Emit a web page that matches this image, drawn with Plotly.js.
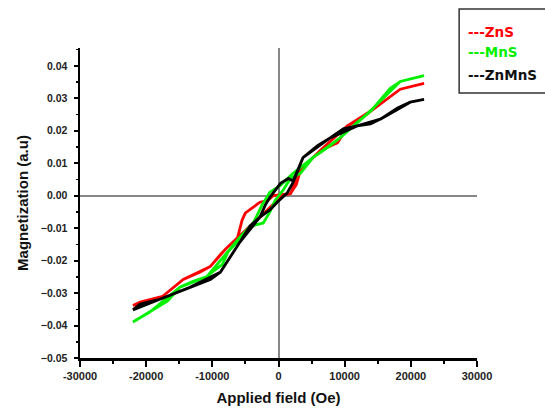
<!DOCTYPE html>
<html>
<head>
<meta charset="utf-8">
<script src="https://cdn.plot.ly/plotly-3.0.1.min.js"></script>
<style>
  html, body { margin: 0; padding: 0; background: #fff; }
  #chart { width: 545px; height: 413px; }
</style>
</head>
<body>
<div id="chart"></div>
<script>
// M-H loops: each series runs up from -22 kOe to +22 kOe, then back down.
const znsField = [-22000, -20900, -17500, -14400, -11900, -10300, -8800, -7800, -6200, -4300, -2500, -1000, 700, 1800, 2700, 3300, 4800, 6300, 8900, 9300, 10400, 12400, 13900, 16900, 18400, 22000,
                  18400, 13900, 10400, 6300, 3300, 1800, -800, -1600, -2800, -3800, -5000, -5500, -6200, -7800, -10300, -14400, -17500, -22000];
const znsMag = [-0.0338, -0.0328, -0.0310, -0.0258, -0.0236, -0.0218, -0.0182, -0.0160, -0.0130, -0.0095, -0.0060, -0.0030, 0.0002, 0.0006, 0.0035, 0.0078, 0.0108, 0.0139, 0.0163, 0.0175, 0.0215, 0.0237, 0.0260, 0.0306, 0.0328, 0.0346,
                0.0328, 0.0260, 0.0215, 0.0139, 0.0078, 0.0006, 0.0000, -0.0014, -0.0020, -0.0035, -0.0053, -0.0075, -0.0130, -0.0160, -0.0218, -0.0258, -0.0310, -0.0338];

const mnsField = [-22000, -19400, -16800, -14900, -12900, -10800, -9900, -8500, -7600, -6200, -5800, -3800, -2300, -1300, -500, 700, 1800, 3300, 5200, 7400, 9300, 11300, 13400, 14000, 16900, 18400, 22000,
                  18400, 13400, 9300, 5200, 2200, 300, -1300, -2500, -3800, -5800, -7600, -10800, -14900, -19400, -22000];
const mnsMag = [-0.0389, -0.0358, -0.0325, -0.0282, -0.0264, -0.0249, -0.0233, -0.0212, -0.0172, -0.0142, -0.0127, -0.0092, -0.0084, -0.0050, -0.0014, 0.0017, 0.0053, 0.0069, 0.0117, 0.0148, 0.0178, 0.0215, 0.0252, 0.0262, 0.0331, 0.0352, 0.0370,
                0.0352, 0.0252, 0.0178, 0.0117, 0.0069, 0.0032, 0.0011, -0.0029, -0.0084, -0.0127, -0.0172, -0.0249, -0.0282, -0.0358, -0.0389];

const znmnsField = [-22000, -20900, -17900, -15900, -13400, -10300, -8800, -7300, -5800, -4300, -2800, -1300, -200, 1300, 2200, 3700, 5900, 7800, 9800, 11900, 13900, 15400, 18000, 19900, 22000,
                    19900, 15400, 11900, 7800, 3700, 2200, 1500, 300, -1300, -2000, -2800, -5800, -8800, -13400, -17900, -22000];
const znmnsMag = [-0.0352, -0.0334, -0.0319, -0.0303, -0.0282, -0.0258, -0.0236, -0.0190, -0.0142, -0.0093, -0.0066, -0.0044, -0.0020, 0.0008, 0.0041, 0.0117, 0.0154, 0.0178, 0.0206, 0.0215, 0.0221, 0.0236, 0.0270, 0.0288, 0.0297,
                  0.0288, 0.0236, 0.0215, 0.0178, 0.0117, 0.0045, 0.0053, 0.0038, -0.0005, -0.0029, -0.0066, -0.0142, -0.0236, -0.0282, -0.0319, -0.0352];

const seriesNames = ['ZnS', 'MnS', 'ZnMnS'];
const seriesColors = ['#ff0000', '#00f000', '#000000'];

const xTickVals = [-30000, -20000, -10000, 0, 10000, 20000, 30000];
const yTickVals = [-0.05, -0.04, -0.03, -0.02, -0.01, 0.00, 0.01, 0.02, 0.03, 0.04];

const fieldSets = [znsField, mnsField, znmnsField];
const magSets = [znsMag, mnsMag, znmnsMag];

const traces = seriesNames.map((name, i) => ({
  type: 'scatter',
  mode: 'lines',
  name: name,
  x: fieldSets[i],
  y: magSets[i],
  line: { color: seriesColors[i], width: 2.8 },
  showlegend: false
}));

const font = 'Arial, "Liberation Sans", sans-serif';
const keyFont = '"DejaVu Sans", Arial, sans-serif';

// Boxed key in the top-right corner
const keyRowY = [1.053, 0.986, 0.912];
const legendRows = seriesNames.map((name, i) => ({
  xref: 'paper', yref: 'paper',
  x: 0.973, y: keyRowY[i],
  xanchor: 'left', yanchor: 'middle',
  text: '---' + name,
  showarrow: false,
  font: { family: keyFont, size: 13.5, color: seriesColors[i] === '#000000' ? '#111' : seriesColors[i], weight: 'bold' }
}));

const layout = {
  width: 545, height: 413,
  margin: { l: 80, r: 68, t: 48, b: 55 },
  paper_bgcolor: '#fff', plot_bgcolor: '#fff',
  font: { family: font, color: '#222' },
  xaxis: {
    range: [-30000, 30000],
    tickvals: xTickVals,
    ticktext: xTickVals.map(v => String(v)),
    ticks: 'outside', ticklen: 6, tickwidth: 2, tickcolor: '#000',
    minor: { ticks: 'outside', ticklen: 3, tickwidth: 2, tickcolor: '#000', dtick: 5000, tick0: 0 },
    showline: true, linecolor: '#000', linewidth: 2.5,
    showgrid: false,
    zeroline: true, zerolinecolor: '#888', zerolinewidth: 2,
    tickfont: { family: font, size: 11, color: '#222', weight: 'bold' },
    title: { text: 'Applied field (Oe)', font: { family: font, size: 15, color: '#111', weight: 'bold' }, standoff: 12 }
  },
  yaxis: {
    range: [-0.05, 0.0455],
    tickvals: yTickVals,
    tickformat: '.2f',
    ticks: 'outside', ticklen: 4, tickwidth: 2, tickcolor: '#000',
    ticklabelstandoff: 4,
    minor: { ticks: 'outside', ticklen: 2, tickwidth: 1.5, tickcolor: '#000', dtick: 0.005, tick0: 0 },
    showline: true, linecolor: '#000', linewidth: 2.5,
    showgrid: false,
    zeroline: true, zerolinecolor: '#888', zerolinewidth: 2,
    tickfont: { family: font, size: 10.5, color: '#222', weight: 'bold' },
    title: { text: 'Magnetization (a.u)', font: { family: font, size: 15, color: '#111', weight: 'bold' }, standoff: 9 }
  },
  shapes: [{
    type: 'rect', xref: 'paper', yref: 'paper',
    x0: 0.955, x1: 1.185, y0: 0.855, y1: 1.126,
    line: { color: '#333', width: 1.5 }, fillcolor: 'rgba(0,0,0,0)'
  }],
  annotations: legendRows
};

Plotly.newPlot('chart', traces, layout, { displayModeBar: false, staticPlot: true });
</script>
</body>
</html>
